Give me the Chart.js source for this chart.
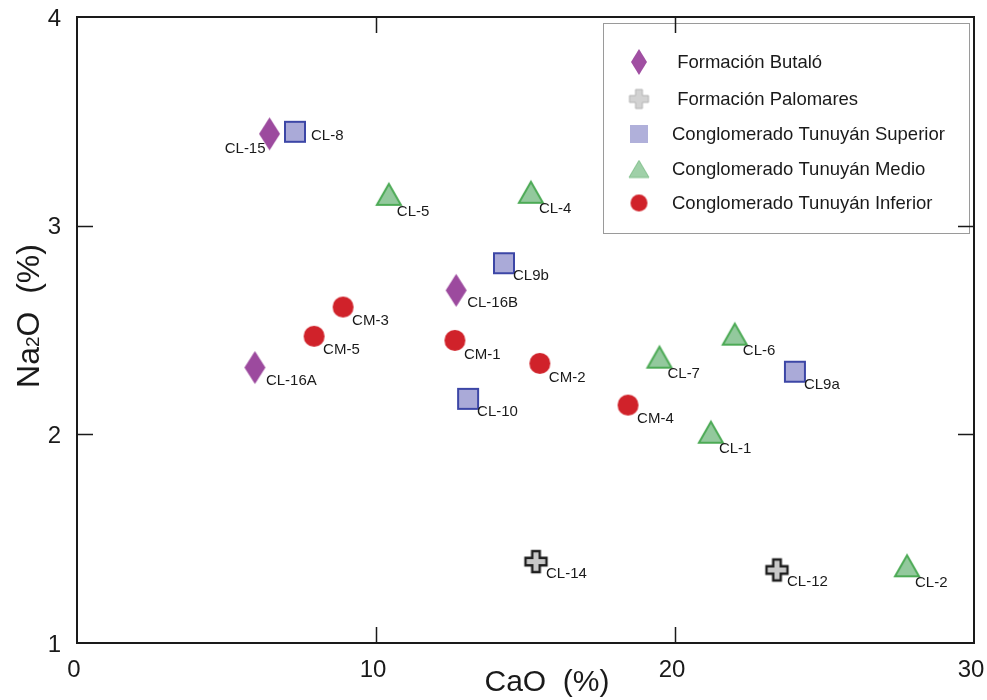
<!DOCTYPE html>
<html>
<head>
<meta charset="utf-8">
<script src="https://cdn.jsdelivr.net/npm/chart.js@4.4.1/dist/chart.umd.min.js"></script>
<style>
  html, body { margin: 0; padding: 0; background: #ffffff; }
  canvas { display: block; }
</style>
</head>
<body>
<canvas id="chart" width="987" height="700"></canvas>
<script>
// Axis ticks
const caoTicks = [0, 10, 20, 30];
const na2oTicks = [1, 2, 3, 4];

// Formación Butaló
const butaloNames = ['CL-15', 'CL-16B', 'CL-16A'];
const butaloCaO   = [6.44, 12.68, 5.95];
const butaloNa2O  = [3.44, 2.69, 2.32];

// Formación Palomares
const palomaresNames = ['CL-14', 'CL-12'];
const palomaresCaO   = [15.35, 23.41];
const palomaresNa2O  = [1.39, 1.35];

// Conglomerado Tunuyán Superior
const superiorNames = ['CL-8', 'CL9b', 'CL-10', 'CL9a'];
const superiorCaO   = [7.29, 14.28, 13.08, 24.01];
const superiorNa2O  = [3.45, 2.82, 2.17, 2.30];

// Conglomerado Tunuyán Medio
const medioNames = ['CL-5', 'CL-4', 'CL-7', 'CL-6', 'CL-1', 'CL-2'];
const medioCaO   = [10.43, 15.18, 19.48, 22.00, 21.20, 27.76];
const medioNa2O  = [3.15, 3.16, 2.37, 2.48, 2.01, 1.37];

// Conglomerado Tunuyán Inferior
const inferiorNames = ['CM-3', 'CM-5', 'CM-1', 'CM-2', 'CM-4'];
const inferiorCaO   = [8.90, 7.93, 12.64, 15.48, 18.43];
const inferiorNa2O  = [2.61, 2.47, 2.45, 2.34, 2.14];

const seriesLabels = [
  ' Formación Butaló',
  ' Formación Palomares',
  'Conglomerado Tunuyán Superior',
  'Conglomerado Tunuyán Medio',
  'Conglomerado Tunuyán Inferior'
];

const FONT = '"Liberation Sans", Arial, Helvetica, sans-serif';
const INK = '#1a1a1a';

// Sample labels that sit somewhere other than below-right of their marker
const labelAnchors = { 'CL-15': 'belowLeft', 'CL-8': 'right' };

// Marker images (drawn once on small canvases, used as point styles)
function marker(kind, w, h, fill, stroke, lw) {
  const pad = Math.ceil(2 * (lw || 0)) + 1;
  const c = document.createElement('canvas');
  c.width = Math.ceil(w + 2 * pad);
  c.height = Math.ceil(h + 2 * pad);
  const g = c.getContext('2d');
  g.translate((c.width - w) / 2, (c.height - h) / 2);
  g.beginPath();
  if (kind === 'diamond') {
    g.moveTo(w / 2, 0); g.lineTo(w, h / 2); g.lineTo(w / 2, h); g.lineTo(0, h / 2);
  } else if (kind === 'square') {
    g.rect(0, 0, w, h);
  } else if (kind === 'triangle') {
    g.moveTo(w / 2, 0); g.lineTo(w, h); g.lineTo(0, h);
  } else if (kind === 'circle') {
    g.arc(w / 2, h / 2, w / 2, 0, Math.PI * 2);
  } else if (kind === 'cross') {
    const t = w * 0.36, a = (w - t) / 2, b = (w + t) / 2;
    g.moveTo(a, 0); g.lineTo(b, 0); g.lineTo(b, a); g.lineTo(w, a); g.lineTo(w, b);
    g.lineTo(b, b); g.lineTo(b, w); g.lineTo(a, w); g.lineTo(a, b); g.lineTo(0, b);
    g.lineTo(0, a); g.lineTo(a, a);
  }
  g.closePath();
  g.fillStyle = fill;
  g.fill();
  if (stroke) {
    g.lineWidth = lw;
    g.strokeStyle = stroke;
    g.lineJoin = 'miter';
    g.stroke();
  }
  return c;
}

const styles = [
  { plot: marker('diamond', 21, 33, '#9c4a9e'),                     key: marker('diamond', 16, 26, '#a04fa2'),                    dx: 11, dy: 13 },
  { plot: marker('cross', 21, 21, '#c8c8c8', '#1e1e1e', 2.4),        key: marker('cross', 19, 19, '#d2d2d2', '#b4b4b4', 1),       dx: 10, dy: 12 },
  { plot: marker('square', 20, 20, '#aaaad8', '#3c46a6', 2),         key: marker('square', 18, 18, '#b0b0da'),                    dx: 9,  dy: 13 },
  { plot: marker('triangle', 24, 21, '#93c99d', '#4caa55', 2),       key: marker('triangle', 20, 17, '#9fd0a8', '#7fbf8a', 1),    dx: 8,  dy: 17 },
  { plot: marker('circle', 21, 21, '#d0222a'),                       key: marker('circle', 17, 17, '#d0222a'),                    dx: 9,  dy: 14 }
];

function points(xs, ys) {
  return xs.map((x, i) => ({ x: x, y: ys[i] }));
}

const seriesData  = [
  points(butaloCaO, butaloNa2O),
  points(palomaresCaO, palomaresNa2O),
  points(superiorCaO, superiorNa2O),
  points(medioCaO, medioNa2O),
  points(inferiorCaO, inferiorNa2O)
];
const seriesNames = [butaloNames, palomaresNames, superiorNames, medioNames, inferiorNames];

const datasets = seriesLabels.map((label, i) => ({
  label: label,
  data: seriesData[i],
  names: seriesNames[i],
  pointStyle: styles[i].plot,
  pointRadius: 12,
  pointHoverRadius: 12,
  showLine: false
}));

// Boxed key, frame, inward ticks, axis titles and sample labels
const decor = {
  id: 'decor',
  afterDraw(chart) {
    const ctx = chart.ctx;
    const a = chart.chartArea;
    const xs = chart.scales.x, ys = chart.scales.y;
    ctx.save();

    // key box (under the frame ticks)
    const bx = 603, by = 23, bw = 366, bh = 210;
    ctx.fillStyle = '#ffffff';
    ctx.fillRect(bx, by, bw, bh);
    ctx.strokeStyle = '#9a9a9a';
    ctx.lineWidth = 1;
    ctx.strokeRect(bx + 0.5, by + 0.5, bw, bh);
    const rowY = [62, 99, 134, 169, 203];
    ctx.font = '18.5px ' + FONT;
    ctx.fillStyle = INK;
    ctx.textAlign = 'left';
    ctx.textBaseline = 'middle';
    chart.data.datasets.forEach((ds, i) => {
      const img = styles[i].key;
      ctx.drawImage(img, 639 - img.width / 2, rowY[i] - img.height / 2);
      ctx.fillText(ds.label, 672, rowY[i] + 1);
    });

    // plot frame
    ctx.strokeStyle = INK;
    ctx.lineWidth = 2;
    ctx.strokeRect(a.left, a.top, a.right - a.left, a.bottom - a.top);

    // inward tick marks on all four sides
    ctx.lineWidth = 1.5;
    ctx.beginPath();
    caoTicks.slice(1, -1).forEach(v => {
      const px = Math.round(xs.getPixelForValue(v)) + 0.5;
      ctx.moveTo(px, a.bottom); ctx.lineTo(px, a.bottom - 16);
      ctx.moveTo(px, a.top); ctx.lineTo(px, a.top + 16);
    });
    na2oTicks.slice(1, -1).forEach(v => {
      const py = Math.round(ys.getPixelForValue(v)) + 0.5;
      ctx.moveTo(a.left, py); ctx.lineTo(a.left + 16, py);
      ctx.moveTo(a.right, py); ctx.lineTo(a.right - 16, py);
    });
    ctx.stroke();

    // x title
    ctx.fillStyle = INK;
    ctx.font = '30px ' + FONT;
    ctx.textAlign = 'center';
    ctx.textBaseline = 'middle';
    ctx.fillText('CaO  (%)', 547, 683);

    // y title with a small baseline "2"
    const big = '32px ' + FONT, small = '19px ' + FONT;
    ctx.font = big;  const w1 = ctx.measureText('Na').width;
    ctx.font = small; const w2 = ctx.measureText('2').width;
    ctx.font = big;  const w3 = ctx.measureText('O  (%)').width;
    const total = w1 + w2 + w3;
    ctx.save();
    ctx.translate(27.5, 316);
    ctx.rotate(-Math.PI / 2);
    ctx.textAlign = 'left';
    ctx.textBaseline = 'alphabetic';
    const base = 11.5;
    let cx = -total / 2;
    ctx.font = big;   ctx.fillText('Na', cx, base); cx += w1;
    ctx.font = small; ctx.fillText('2', cx, base);  cx += w2;
    ctx.font = big;   ctx.fillText('O  (%)', cx, base);
    ctx.restore();

    // sample labels
    ctx.font = '15px ' + FONT;
    ctx.textBaseline = 'middle';
    chart.data.datasets.forEach((ds, i) => {
      const meta = chart.getDatasetMeta(i);
      meta.data.forEach((pt, j) => {
        const name = ds.names[j];
        const anchor = labelAnchors[name];
        if (anchor === 'belowLeft') {
          ctx.textAlign = 'right';
          ctx.fillText(name, pt.x - 4, pt.y + 15);
        } else if (anchor === 'right') {
          ctx.textAlign = 'left';
          ctx.fillText(name, pt.x + 16, pt.y + 4);
        } else {
          ctx.textAlign = 'left';
          ctx.fillText(name, pt.x + styles[i].dx, pt.y + styles[i].dy);
        }
      });
    });

    ctx.restore();
  }
};

new Chart(document.getElementById('chart'), {
  type: 'scatter',
  data: { datasets: datasets },
  plugins: [decor],
  options: {
    responsive: false,
    animation: false,
    devicePixelRatio: 1,
    layout: { padding: { top: 17, right: 13, left: 0, bottom: 0 } },
    plugins: {
      legend: { display: false },
      tooltip: { enabled: false }
    },
    scales: {
      x: {
        type: 'linear',
        min: caoTicks[0],
        max: caoTicks[caoTicks.length - 1],
        afterBuildTicks: s => { s.ticks = caoTicks.map(v => ({ value: v })); },
        afterFit: s => { s.height = 57; s.paddingLeft = 0; s.paddingRight = 0; },
        grid: { display: false, drawTicks: false },
        border: { display: false },
        ticks: {
          color: INK,
          font: { family: FONT, size: 24 },
          padding: 13,
          labelOffset: -3,
          maxRotation: 0
        }
      },
      y: {
        type: 'linear',
        min: na2oTicks[0],
        max: na2oTicks[na2oTicks.length - 1],
        afterBuildTicks: s => { s.ticks = na2oTicks.map(v => ({ value: v })); },
        afterFit: s => { s.width = 77; s.paddingTop = 0; s.paddingBottom = 0; },
        grid: { display: false, drawTicks: false },
        border: { display: false },
        ticks: {
          color: INK,
          font: { family: FONT, size: 24 },
          padding: 16,
          labelOffset: 2
        }
      }
    }
  }
});
</script>
</body>
</html>
